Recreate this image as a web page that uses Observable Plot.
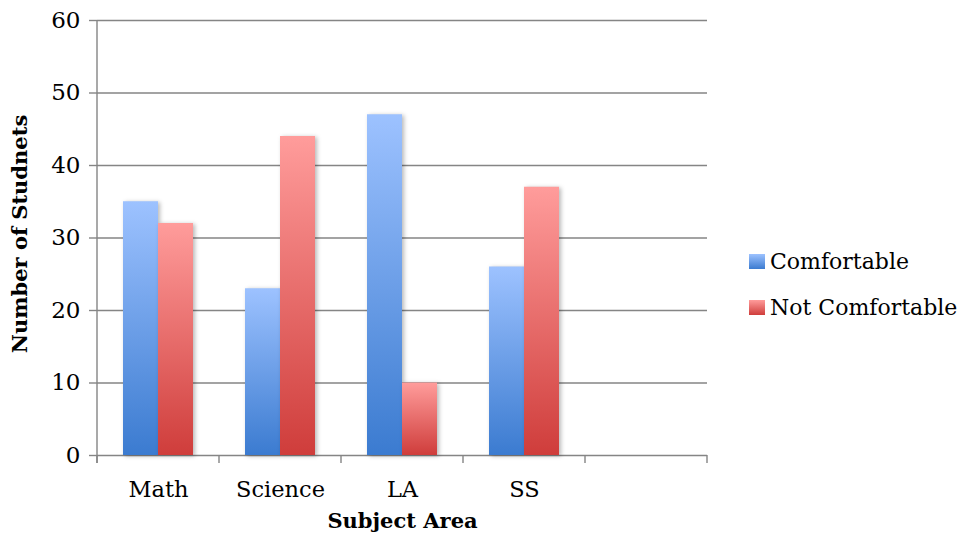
<!DOCTYPE html>
<html>
<head>
<meta charset="utf-8">
<script src="https://cdn.jsdelivr.net/npm/d3@7"></script>
<script src="https://cdn.jsdelivr.net/npm/@observablehq/plot@0.6"></script>
<style>
  html, body { margin: 0; padding: 0; background: #fff; }
  #wrap { position: relative; width: 964px; height: 546px; font-family: "DejaVu Serif", serif; color: #000; }
  .lg-row { position: absolute; left: 749px; height: 30px; display: flex; align-items: center; font-size: 22px; }
  .lg-sw { width: 16px; height: 15px; margin-right: 5px; }
</style>
</head>
<body>
<div id="wrap"></div>
<script>
const subjects = ["Math", "Science", "LA", "SS", ""];
const series = ["Comfortable", "Not Comfortable"];
const comfortable = [35, 23, 47, 26];
const notComfortable = [32, 44, 10, 37];
const yTicks = [0, 10, 20, 30, 40, 50, 60];
const gradients = {
  "Comfortable": ["#9dc2ff", "#3b7bd0"],
  "Not Comfortable": ["#ff9c9b", "#cf3d3b"]
};
const gradIds = ["gradBlue", "gradRed"];

const rows = [];
subjects.slice(0, 4).forEach((s, i) => {
  rows.push({subject: s, series: series[0], value: comfortable[i]});
  rows.push({subject: s, series: series[1], value: notComfortable[i]});
});
const gridRows = subjects.flatMap(s => yTicks.map(v => ({subject: s, v})));

const plot = Plot.plot({
  width: 964,
  height: 546,
  marginLeft: 95,
  marginRight: 256,
  marginTop: 20,
  marginBottom: 91,
  style: {fontFamily: "DejaVu Serif", fontSize: "23px", color: "#000", background: "#fff"},
  fx: {domain: subjects, padding: 0, label: null},
  x: {domain: series, paddingInner: 0, paddingOuter: 0.727, axis: null},
  y: {domain: [0, 60], label: null},
  color: {domain: series, range: gradIds.map(id => `url(#${id})`)},
  marks: [
    Plot.ruleY(gridRows, {fx: "subject", y: "v", stroke: "#858585", strokeWidth: 1.4}),
    Plot.axisY({ticks: yTicks, tickSize: 8, tickPadding: 9, label: null, stroke: "#858585", strokeWidth: 1.4, fontSize: 23, fill: "#000"}),
    Plot.axisFx({anchor: "bottom", tickSize: 0, tickPadding: 26, label: null, fontSize: 22.5, fill: "#000"}),
    Plot.barY(rows, {fx: "subject", x: "series", y: "value", fill: "series"}),
    Plot.text(["Number of Studnets"], {facet: "super", frameAnchor: "left", textAnchor: "middle", rotate: -90, dx: -77, dy: -4, fontWeight: "bold", fontSize: 21, fill: "#000"}),
    Plot.text(["Subject Area"], {facet: "super", frameAnchor: "bottom", textAnchor: "middle", dy: 72, fontWeight: "bold", fontSize: 21, fill: "#000"})
  ]
});

const svg = d3.select(plot);
const defs = svg.insert("defs", ":first-child");
series.forEach((s, i) => {
  const g = defs.append("linearGradient").attr("id", gradIds[i]).attr("x1", 0).attr("y1", 0).attr("x2", 0).attr("y2", 1);
  g.append("stop").attr("offset", "0%").attr("stop-color", gradients[s][0]);
  g.append("stop").attr("offset", "100%").attr("stop-color", gradients[s][1]);
});
svg.selectAll("g[aria-label='bar'] rect").style("filter", "drop-shadow(2px 1px 2px rgba(0,0,0,0.28))");

// axis line and category boundary ticks using the plot's scales
const fx = plot.scale("fx");
const y = plot.scale("y");
const y0 = y.apply(0), yTop = y.apply(60);
const edges = subjects.map(s => fx.apply(s));
edges.push(fx.apply(subjects[subjects.length - 1]) + fx.step);
const ax = svg.append("g").attr("stroke", "#858585").attr("stroke-width", 1.4);
ax.append("line").attr("x1", edges[0]).attr("x2", edges[0]).attr("y1", yTop).attr("y2", y0 + 8);
edges.forEach(e => ax.append("line").attr("x1", e).attr("x2", e).attr("y1", y0).attr("y2", y0 + 8));

const wrap = document.getElementById("wrap");
wrap.appendChild(plot);
[[series[0], 246], [series[1], 292]].forEach(([s, top]) => {
  const row = document.createElement("div");
  row.className = "lg-row";
  row.style.top = top + "px";
  const sw = document.createElement("div");
  sw.className = "lg-sw";
  sw.style.background = `linear-gradient(to bottom, ${gradients[s][0]}, ${gradients[s][1]})`;
  const tx = document.createElement("span");
  tx.textContent = s;
  row.appendChild(sw);
  row.appendChild(tx);
  wrap.appendChild(row);
});
</script>
</body>
</html>
